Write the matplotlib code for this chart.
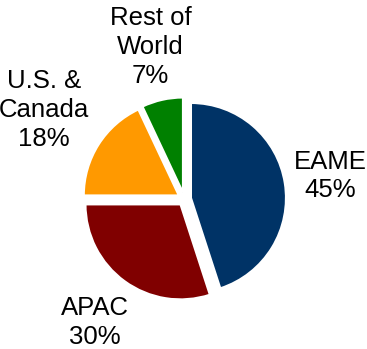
import numpy as np
import matplotlib
matplotlib.use("Agg")
import matplotlib.pyplot as plt

plt.rcParams['font.family'] = ['Liberation Sans', 'DejaVu Sans']

# data
regions = ["EAME", "APAC", "U.S. &\nCanada", "Rest of\nWorld"]
shares = [45, 30, 18, 7]
colors = ["#003366", "#800000", "#FF9900", "#008000"]

# layout
explode = [0.07, 0.07, 0.07, 0.07]
label_dist = [1.48, 1.54, 1.68, 1.57]

fig = plt.figure(figsize=(3.67, 3.49), dpi=100)
ax = fig.add_axes([0, 0, 1, 1])

wedges, _ = ax.pie(shares, colors=colors, startangle=90, counterclock=False,
                   explode=explode, radius=1.0,
                   wedgeprops=dict(edgecolor="white", linewidth=1.5))

for w, name, val, ex, d in zip(wedges, regions, shares, explode, label_dist):
    mid = np.deg2rad((w.theta1 + w.theta2) / 2)
    x = (ex + d) * np.cos(mid)
    y = (ex + d) * np.sin(mid)
    ax.text(x, y, f"{name}\n{val}%", ha="center", va="center",
            fontsize=18.5, linespacing=1.25, color="black")

ax.set_xlim(-1.941, 1.922)
ax.set_ylim(-1.579, 2.095)
ax.set_aspect("equal")
ax.axis("off")

fig.savefig("out.png", dpi=100)
